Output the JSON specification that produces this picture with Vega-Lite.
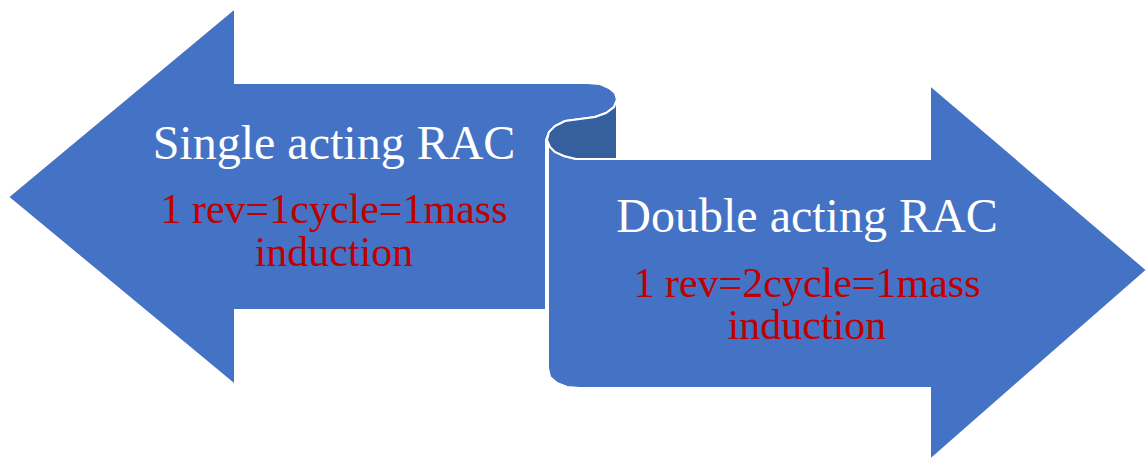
{
  "$schema": "https://vega.github.io/schema/vega-lite/v6.json",
  "width": 1147,
  "height": 461,
  "autosize": "none",
  "padding": 0,
  "config": {"view": {"stroke": null}},
  "datasets": {
    "shapes": [
      {"shape": "left", "i": 0, "x": 8, "y": 197},
      {"shape": "left", "i": 1, "x": 235, "y": 8},
      {"shape": "left", "i": 2, "x": 235, "y": 83},
      {"shape": "left", "i": 3, "x": 587, "y": 83},
      {"shape": "left", "i": 4, "x": 600, "y": 84},
      {"shape": "left", "i": 5, "x": 609, "y": 88},
      {"shape": "left", "i": 6, "x": 615, "y": 93},
      {"shape": "left", "i": 7, "x": 617, "y": 100},
      {"shape": "left", "i": 8, "x": 614, "y": 107},
      {"shape": "left", "i": 9, "x": 606, "y": 113},
      {"shape": "left", "i": 10, "x": 595, "y": 117},
      {"shape": "left", "i": 11, "x": 580, "y": 119},
      {"shape": "left", "i": 12, "x": 565, "y": 121},
      {"shape": "left", "i": 13, "x": 555, "y": 126},
      {"shape": "left", "i": 14, "x": 549, "y": 132},
      {"shape": "left", "i": 15, "x": 546, "y": 140},
      {"shape": "left", "i": 16, "x": 546, "y": 310},
      {"shape": "left", "i": 17, "x": 235, "y": 310},
      {"shape": "left", "i": 18, "x": 235, "y": 385},
      {"shape": "left", "i": 19, "x": 8, "y": 197},
      {"shape": "right", "i": 0, "x": 548, "y": 140},
      {"shape": "right", "i": 1, "x": 550, "y": 147},
      {"shape": "right", "i": 2, "x": 555, "y": 152},
      {"shape": "right", "i": 3, "x": 564, "y": 156},
      {"shape": "right", "i": 4, "x": 576, "y": 159},
      {"shape": "right", "i": 5, "x": 930, "y": 159},
      {"shape": "right", "i": 6, "x": 930, "y": 85},
      {"shape": "right", "i": 7, "x": 1147, "y": 270},
      {"shape": "right", "i": 8, "x": 930, "y": 460},
      {"shape": "right", "i": 9, "x": 930, "y": 388},
      {"shape": "right", "i": 10, "x": 580, "y": 388},
      {"shape": "right", "i": 11, "x": 567, "y": 387},
      {"shape": "right", "i": 12, "x": 557, "y": 383},
      {"shape": "right", "i": 13, "x": 550, "y": 377},
      {"shape": "right", "i": 14, "x": 548, "y": 368},
      {"shape": "right", "i": 15, "x": 548, "y": 140},
      {"shape": "curl", "i": 0, "x": 617, "y": 100},
      {"shape": "curl", "i": 1, "x": 614, "y": 107},
      {"shape": "curl", "i": 2, "x": 606, "y": 113},
      {"shape": "curl", "i": 3, "x": 595, "y": 117},
      {"shape": "curl", "i": 4, "x": 580, "y": 119},
      {"shape": "curl", "i": 5, "x": 565, "y": 121},
      {"shape": "curl", "i": 6, "x": 555, "y": 126},
      {"shape": "curl", "i": 7, "x": 549, "y": 132},
      {"shape": "curl", "i": 8, "x": 547, "y": 140},
      {"shape": "curl", "i": 9, "x": 550, "y": 147},
      {"shape": "curl", "i": 10, "x": 555, "y": 152},
      {"shape": "curl", "i": 11, "x": 564, "y": 156},
      {"shape": "curl", "i": 12, "x": 576, "y": 159},
      {"shape": "curl", "i": 13, "x": 617, "y": 159},
      {"shape": "curl", "i": 14, "x": 617, "y": 100}
    ],
    "labels": [
      {"kind": "title", "x": 334, "y": 159, "text": "Single acting RAC"},
      {"kind": "detail", "x": 334, "y": 223, "text": "1 rev=1cycle=1mass"},
      {"kind": "detail", "x": 334, "y": 266, "text": "induction"},
      {"kind": "title", "x": 807, "y": 232, "text": "Double acting RAC"},
      {"kind": "detail", "x": 807, "y": 297, "text": "1 rev=2cycle=1mass"},
      {"kind": "detail", "x": 807, "y": 339, "text": "induction"}
    ]
  },
  "encoding": {
    "x": {"field": "x", "type": "quantitative", "scale": {"domain": [0, 1147], "nice": false, "zero": false}, "axis": null},
    "y": {"field": "y", "type": "quantitative", "scale": {"domain": [461, 0], "nice": false, "zero": false}, "axis": null}
  },
  "layer": [
    {
      "data": {"name": "shapes"},
      "transform": [{"filter": "datum.shape === 'left'"}],
      "mark": {"type": "line", "fill": "#4472C4", "stroke": "#FFFFFF", "strokeWidth": 2, "strokeJoin": "miter", "clip": false},
      "encoding": {"order": {"field": "i", "type": "quantitative"}}
    },
    {
      "data": {"name": "shapes"},
      "transform": [{"filter": "datum.shape === 'right'"}],
      "mark": {"type": "line", "fill": "#4472C4", "stroke": "#FFFFFF", "strokeWidth": 2, "strokeJoin": "miter", "clip": false},
      "encoding": {"order": {"field": "i", "type": "quantitative"}}
    },
    {
      "data": {"name": "shapes"},
      "transform": [{"filter": "datum.shape === 'curl'"}],
      "mark": {"type": "line", "fill": "#365F9E", "stroke": "#FFFFFF", "strokeWidth": 2, "clip": false},
      "encoding": {"order": {"field": "i", "type": "quantitative"}}
    },
    {
      "data": {"name": "labels"},
      "transform": [{"filter": "datum.kind === 'title'"}],
      "mark": {"type": "text", "font": "Liberation Serif", "fontSize": 48, "color": "#FFFFFF", "align": "center", "baseline": "alphabetic"},
      "encoding": {"text": {"field": "text"}}
    },
    {
      "data": {"name": "labels"},
      "transform": [{"filter": "datum.kind === 'detail'"}],
      "mark": {"type": "text", "font": "Liberation Serif", "fontSize": 42, "color": "#C00000", "align": "center", "baseline": "alphabetic"},
      "encoding": {"text": {"field": "text"}}
    }
  ]
}
